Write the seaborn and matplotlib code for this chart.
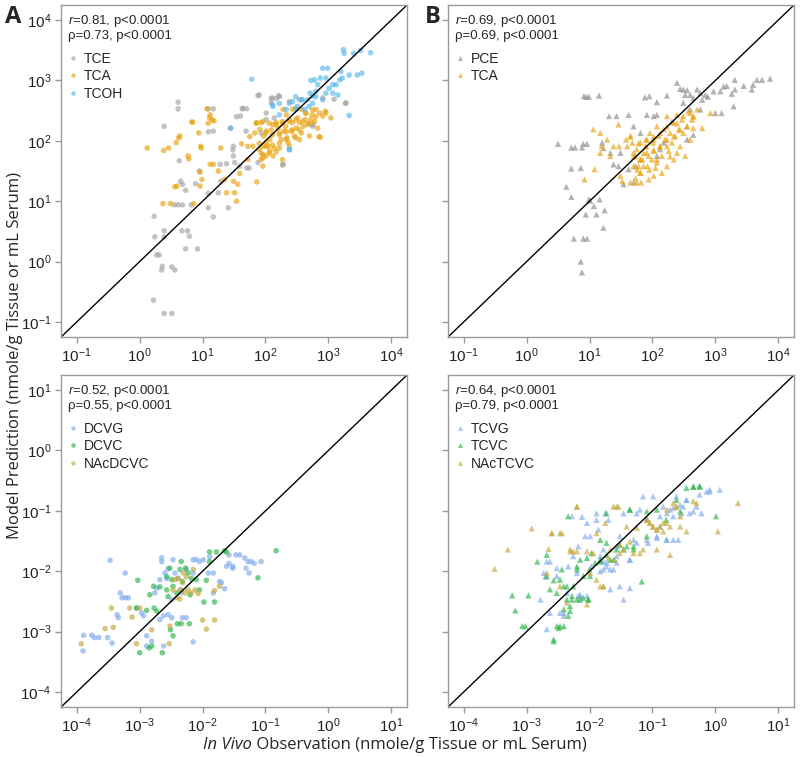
import matplotlib
matplotlib.use("Agg")
import matplotlib.pyplot as plt
import matplotlib.ticker as mticker
import seaborn as sns
import pandas as pd
import numpy as np

# all values are log10(nmole/g tissue or mL serum)
# --- panel A (TCE metabolites) ---
tce_obs = [0.23, 0.24, 0.27, 0.31, 0.35, 0.36, 0.39, 0.39, 0.51, 0.56,
           0.67, 0.76, 0.73, 0.79, 0.92, 0.22, 0.39, 0.51, 0.39, 0.61,
           0.61, 0.63, 0.65, 0.68, 0.73, 0.55, 0.61, 0.68, 0.82, 0.89,
           1.09, 1.09, 1.17, 1.25, 1.41, 1.29, 1.28, 1.38, 1.49, 1.51,
           1.59, 1.70, 1.74, 1.63, 1.70, 1.60, 1.69, 1.09, 1.17, 1.09,
           1.17, 1.88, 1.88, 2.09, 2.17, 2.21, 2.09, 2.14, 2.38, 2.54,
           2.75, 3.09, 3.28, 2.91, 2.28, 1.44, 1.93, 2.01, 0.95, 1.49,
           1.90, 2.11, 2.22, 1.64, 1.54, 2.01, 2.75, 3.27, 1.48, 2.27]
tce_pred = [0.75, 0.41, 0.11, 0.11, -0.14, -0.08, 0.51, 0.41, -0.09, -0.14,
            0.51, 0.51, 0.21, 0.42, 0.21, -0.64, -0.86, -0.86, 2.24, 2.64,
            2.53, 1.67, 1.33, 1.28, 1.18, 0.94, 0.94, 0.94, 0.94, 1.29,
            1.13, 0.89, 0.74, 1.14, 0.89, 1.33, 1.61, 1.62, 1.91, 1.64,
            1.58, 1.55, 1.55, 2.53, 2.53, 2.41, 2.16, 2.15, 2.16, 2.53,
            2.53, 2.75, 1.64, 2.70, 2.70, 2.75, 2.63, 2.38, 2.65, 2.68,
            2.24, 2.69, 2.63, 2.71, 1.61, 2.21, 2.13, 2.35, 1.50, 1.75,
            2.76, 2.71, 2.73, 2.54, 2.40, 2.46, 2.27, 2.62, 1.85, 1.60]
tca_a_obs = [0.12, 0.38, 0.46, 0.62, 0.64, 0.58, 0.59, 0.56, 0.37, 0.49,
             0.77, 0.78, 0.84, 0.83, 0.94, 0.97, 0.98, 1.07, 1.12, 1.11,
             1.15, 1.09, 1.18, 0.96, 0.99, 0.96, 0.86, 1.12, 1.17, 1.25,
             1.29, 1.35, 1.49, 1.51, 1.56, 1.59, 1.72, 1.38, 1.86, 1.54,
             1.72, 1.62, 1.80, 1.86, 1.93, 1.91, 1.97, 2.01, 1.90, 1.93,
             1.96, 2.01, 2.04, 2.07, 2.09, 2.12, 2.17, 2.20, 2.22, 2.25,
             2.27, 2.29, 2.32, 2.34, 2.36, 2.38, 2.41, 2.43, 2.46, 2.49,
             2.51, 2.54, 2.57, 2.60, 2.63, 2.67, 2.70, 2.74, 2.78, 2.80,
             2.83, 2.87, 2.91, 2.95, 3.04, 2.86, 2.07, 2.14, 2.22, 2.12,
             2.54, 2.38, 1.96, 2.01, 2.28, 2.57, 1.96, 2.64, 2.72, 1.83,
             2.33, 2.43]
tca_a_pred = [1.88, 1.84, 1.88, 2.05, 2.08, 1.97, 1.25, 1.24, 0.96, 0.96,
              1.75, 1.70, 2.31, 2.31, 2.13, 1.91, 1.88, 2.53, 2.43, 2.38,
              2.35, 2.29, 2.33, 1.48, 1.36, 1.25, 0.96, 1.61, 1.61, 1.50,
              1.88, 1.36, 1.33, 1.14, 1.28, 1.46, 1.69, 1.14, 1.32, 1.00,
              1.91, 1.95, 1.91, 2.30, 2.30, 2.19, 2.08, 1.97, 1.86, 1.80,
              1.72, 1.75, 1.91, 2.02, 2.18, 2.27, 2.30, 2.21, 2.10, 2.02,
              2.32, 2.16, 2.24, 2.05, 1.97, 2.35, 2.16, 2.30, 2.08, 2.21,
              2.38, 2.30, 2.13, 2.24, 2.35, 2.27, 2.08, 2.43, 2.32, 2.52,
              2.21, 2.06, 2.41, 2.49, 2.38, 2.46, 1.83, 1.88, 1.88, 1.75,
              2.02, 1.91, 1.91, 2.16, 2.52, 2.52, 1.58, 2.46, 2.35, 2.13,
              2.43, 2.52]
# second reading of the dense TCA cluster in panel A
tca_a_obs_core = [1.85, 1.96, 2.06, 2.17, 2.27, 2.38, 2.48, 2.59, 2.69, 2.01,
                  2.11, 2.22, 2.33, 2.43, 2.54, 1.90, 2.01, 2.11, 2.22, 2.33,
                  2.48, 1.96, 2.06, 2.17, 1.93, 2.64, 2.75, 2.80, 2.96, 2.85,
                  2.48, 1.75, 2.27]
tca_a_pred_core = [2.29, 2.32, 2.29, 2.27, 2.29, 2.32, 2.35, 2.32, 2.29, 2.13,
                   2.10, 2.13, 2.15, 2.18, 2.18, 1.96, 1.91, 1.93, 1.96, 2.02,
                   2.05, 1.77, 1.80, 1.82, 1.69, 2.46, 2.51, 2.40, 2.46, 2.07,
                   2.54, 2.07, 1.69]
tcoh_obs = [1.78, 1.45, 2.12, 2.22, 2.33, 2.38, 2.43, 2.51, 2.57, 2.62,
            2.67, 2.71, 2.75, 2.72, 2.78, 2.83, 2.87, 2.91, 2.99, 2.96,
            3.01, 3.07, 3.12, 3.15, 3.18, 3.22, 3.20, 3.33, 3.46, 3.53,
            3.33, 3.25, 3.24, 3.40, 3.51, 3.67, 3.07, 2.91, 2.80, 2.49,
            2.11, 2.22, 2.38, 2.48, 2.59, 2.75, 2.80, 2.96, 2.38, 2.69]
tcoh_pred = [3.02, 2.21, 2.57, 2.43, 2.52, 1.86, 2.65, 2.57, 2.68, 2.52,
             2.68, 2.79, 2.74, 3.00, 3.01, 2.93, 3.04, 3.20, 3.20, 3.04,
             2.87, 2.93, 2.93, 2.76, 3.01, 3.04, 3.15, 3.09, 3.09, 3.12,
             2.42, 3.45, 3.51, 3.45, 3.50, 3.46, 2.79, 2.68, 2.82, 2.52,
             2.60, 2.62, 2.62, 2.73, 2.68, 2.62, 2.73, 2.79, 1.85, 2.57]

# --- panel B (PCE metabolites) ---
pce_obs = [0.50, 0.71, 0.77, 0.71, 0.63, 0.71, 0.88, 0.91, 0.95, 0.99,
           1.15, 0.90, 0.96, 0.86, 0.99, 1.01, 1.07, 1.16, 1.24, 0.94,
           1.11, 1.22, 0.75, 0.90, 0.96, 0.86, 0.88, 1.31, 1.43, 1.20,
           1.22, 1.33, 1.38, 1.46, 1.49, 1.62, 1.70, 1.73, 1.70, 1.81,
           1.88, 1.95, 1.91, 2.07, 2.07, 2.02, 2.23, 2.39, 2.44, 2.49,
           2.55, 2.52, 2.60, 2.65, 2.71, 2.76, 2.79, 2.84, 2.88, 2.97,
           3.00, 3.08, 3.10, 3.13, 3.18, 3.26, 3.29, 3.31, 3.31, 3.58,
           3.60, 3.66, 3.74, 3.87, 3.45, 2.60, 2.49, 2.65, 2.55, 2.31,
           2.18, 2.12, 1.54, 1.62, 2.07, 2.76]
pce_pred = [1.95, 1.89, 1.89, 1.54, 1.24, 1.07, 1.89, 2.74, 2.73, 2.73,
            2.75, 1.95, 1.95, 1.55, 1.03, 1.01, 0.92, 1.03, 0.85, 0.78,
            0.78, 0.56, 0.38, 0.38, 0.38, 0.00, -0.18, 2.41, 2.41, 1.97,
            1.88, 1.80, 1.61, 1.58, 1.80, 2.43, 2.24, 1.58, 1.31, 2.13,
            2.72, 2.74, 2.43, 2.64, 2.43, 2.41, 2.75, 2.96, 2.86, 2.85,
            2.84, 2.76, 2.76, 2.71, 2.85, 2.79, 2.68, 2.76, 2.73, 2.82,
            2.46, 2.82, 2.46, 2.90, 2.91, 2.78, 2.57, 3.01, 2.85, 2.85,
            2.93, 3.01, 3.01, 3.03, 2.91, 2.52, 2.63, 2.10, 2.02, 2.32,
            1.97, 1.86, 1.28, 1.53, 1.75, 2.52]
tca_b_obs = [0.92, 1.08, 1.06, 1.17, 1.19, 1.28, 1.33, 1.46, 1.47, 1.49,
             1.52, 1.58, 1.65, 1.68, 1.70, 1.73, 1.75, 1.78, 1.80, 1.81,
             1.82, 1.84, 1.86, 1.89, 1.90, 1.92, 1.94, 1.96, 1.99, 2.01,
             2.02, 2.05, 2.07, 2.10, 2.12, 2.15, 2.18, 2.20, 2.23, 2.26,
             2.28, 2.31, 2.34, 2.36, 2.39, 2.42, 2.44, 2.47, 2.49, 2.52,
             2.55, 2.57, 2.60, 2.63, 2.65, 2.71, 2.79, 2.92, 1.94, 1.75,
             1.65, 2.02, 1.70, 1.60, 1.90, 2.02, 1.81, 2.23, 2.34, 1.95,
             2.15, 2.39, 1.17, 1.38, 2.07, 2.23, 2.49, 2.65,
             1.70, 1.81, 1.76, 1.86, 1.91, 2.02, 2.12, 2.23, 2.34, 2.44,
             2.55, 2.39, 2.23, 2.12, 2.02, 1.91, 1.78, 1.81, 1.73, 1.65,
             2.60, 2.65, 2.28, 2.07]
tca_b_pred = [1.36, 1.53, 2.19, 2.13, 1.91, 2.02, 1.75, 2.27, 1.91, 1.42,
              1.33, 2.02, 2.08, 1.97, 1.80, 1.75, 1.86, 1.58, 1.69, 1.47,
              1.31, 1.69, 1.80, 1.91, 2.02, 1.58, 1.75, 2.13, 1.69, 1.97,
              1.83, 1.55, 2.24, 2.08, 1.91, 1.75, 2.19, 2.02, 2.41, 1.83,
              2.13, 1.97, 2.30, 2.08, 2.43, 2.19, 1.91, 2.35, 2.13, 1.75,
              2.24, 2.49, 2.02, 2.35, 2.21, 2.52, 2.21, 2.46, 1.36, 1.31,
              1.31, 1.42, 1.58, 1.91, 1.91, 2.02, 1.97, 1.58, 1.69, 1.52,
              1.47, 1.80, 1.80, 1.91, 1.64, 1.91, 2.41, 2.41,
              1.74, 1.69, 1.52, 1.58, 1.80, 1.85, 1.91, 2.02, 2.07, 2.18,
              2.24, 2.29, 2.24, 2.13, 2.07, 2.02, 1.96, 1.47, 1.38, 2.07,
              2.46, 2.40, 1.74, 1.69]

# --- panel C (DCVG pathway) ---
dcvg_obs = [-3.89, -3.90, -3.76, -3.72, -3.65, -3.51, -3.44, -3.47, -3.23, -3.31,
            -3.28, -3.23, -3.18, -3.36, -3.34, -2.97, -2.94, -3.05, -2.89, -2.81,
            -2.89, -2.76, -2.73, -2.68, -2.65, -2.65, -2.60, -2.57, -2.55, -2.49,
            -2.55, -2.49, -2.62, -2.68, -2.47, -2.44, -2.39, -2.34, -2.32, -2.26,
            -2.34, -2.15, -2.10, -2.05, -2.26, -2.15, -2.15, -2.62, -1.99, -1.91,
            -1.89, -1.83, -1.73, -1.70, -1.65, -1.83, -1.62, -1.58, -1.58, -1.52,
            -1.47, -1.41, -1.33, -1.28, -1.23, -1.18, -1.07, -1.26, -1.31, -1.52]
dcvg_pred = [-3.06, -3.32, -3.06, -3.10, -3.10, -3.10, -3.19, -1.82, -2.03, -2.36,
             -2.44, -2.44, -2.44, -2.72, -2.77, -2.69, -2.74, -2.61, -3.07, -3.16,
             -3.24, -2.36, -2.28, -2.14, -1.78, -1.84, -2.03, -2.12, -1.96, -2.47,
             -2.72, -2.77, -2.74, -2.80, -1.81, -2.03, -2.12, -2.36, -2.77, -2.77,
             -2.31, -1.81, -1.81, -1.84, -1.97, -2.03, -3.17, -3.24, -1.81, -2.03,
             -1.76, -2.03, -2.17, -2.19, -2.29, -2.36, -1.92, -1.87, -1.73, -1.92,
             -1.73, -1.73, -1.78, -1.84, -1.84, -1.87, -1.84, -2.03, -1.95, -1.95]
dcvc_obs = [-3.03, -3.05, -3.00, -2.89, -2.84, -2.77, -2.73, -2.78, -2.81, -2.85,
            -2.64, -2.68, -2.57, -2.52, -2.49, -2.47, -2.41, -2.40, -2.34, -2.36,
            -2.34, -2.32, -2.23, -2.21, -2.20, -2.18, -2.10, -2.05, -1.98, -1.94,
            -1.89, -1.81, -1.78, -1.89, -1.65, -1.62, -1.12, -0.83, -2.47, -2.51,
            -2.55, -2.27, -2.57]
dcvc_pred = [-2.15, -2.61, -3.35, -2.65, -2.39, -2.61, -2.66, -2.25, -3.24, -3.27,
             -3.35, -2.26, -2.31, -1.95, -2.14, -2.25, -2.36, -2.87, -2.87, -1.97,
             -1.84, -2.17, -2.03, -2.87, -2.39, -2.12, -2.14, -2.31, -2.51, -2.15,
             -1.84, -2.51, -1.68, -1.68, -1.66, -1.68, -2.11, -1.66, -3.07, -2.97,
             -2.42, -1.95, -2.09]
nacdcvc_obs = [-3.93, -3.55, -3.42, -3.45, -3.16, -3.12, -3.05, -3.00, -2.81, -2.53,
               -2.52, -2.47, -2.41, -2.36, -2.44, -2.32, -2.28, -2.26, -2.23, -2.18,
               -2.15, -2.12, -2.07, -2.00, -1.94, -1.81, -1.81, -1.73, -2.39, -2.31,
               -2.36]
nacdcvc_pred = [-3.20, -2.95, -2.93, -2.61, -2.61, -2.76, -3.20, -2.61, -2.97, -3.20,
                -2.91, -2.31, -2.44, -2.46, -2.14, -2.19, -2.36, -2.09, -2.31, -2.36,
                -1.97, -2.31, -2.37, -2.81, -2.96, -2.81, -2.32, -2.25, -2.12, -2.03,
                -2.31]

# --- panel D (TCVG pathway) ---
tcvg_obs = [-2.78, -2.73, -2.68, -2.70, -2.68, -2.63, -2.52, -2.47, -2.41, -2.36,
            -2.34, -2.28, -2.26, -2.20, -2.15, -2.12, -2.07, -2.04, -1.97, -1.89,
            -1.86, -1.83, -1.78, -1.75, -1.73, -1.70, -1.62, -1.57, -1.52, -1.46,
            -1.36, -1.36, -1.30, -1.25, -1.20, -1.15, -1.09, -1.07, -0.99, -0.93,
            -0.88, -0.83, -0.78, -0.72, -0.67, -0.62, -0.59, -0.54, -0.51, -0.46,
            -0.41, -0.35, -0.30, -0.22, -0.14, -0.09, 0.07, -1.46, -2.04, -1.78,
            -1.57,
            -2.63, -2.52, -2.15, -2.41, -1.78, -1.73, -1.67, -1.83, -1.57, -1.36,
            -1.25, -1.09, -0.93, -0.77, -0.67, -0.88, -0.77, -0.67, -0.56, -0.46,
            -0.25, -0.09, -1.67, -1.52, -1.99, -2.18, -1.89, -2.18]
tcvg_pred = [-2.47, -2.03, -1.84, -2.09, -2.96, -2.69, -2.08, -2.69, -2.74, -2.36,
             -1.92, -1.09, -1.75, -2.03, -2.39, -1.10, -1.42, -1.20, -1.92, -1.15,
             -1.31, -1.75, -1.64, -1.04, -1.86, -1.15, -1.97, -1.75, -1.42, -1.04,
             -1.81, -2.28, -1.48, -1.04, -0.98, -0.76, -1.12, -1.53, -0.76, -1.42,
             -1.09, -0.93, -1.48, -0.98, -1.09, -0.76, -1.48, -1.04, -0.93, -0.82,
             -1.04, -1.01, -0.93, -1.04, -0.68, -0.65, -0.65, -2.47, -2.41, -1.97,
             -1.59,
             -1.84, -1.95, -2.41, -2.69, -1.84, -1.92, -1.97, -2.00, -1.86, -1.81,
             -1.53, -1.48, -1.45, -1.48, -1.48, -1.26, -1.04, -0.95, -0.90, -0.82,
             -0.73, -0.68, -2.30, -2.25, -1.42, -1.59, -1.04, -2.41]
tcvc_obs = [-3.23, -3.18, -3.07, -3.02, -2.97, -2.83, -2.68, -2.57, -2.57, -2.52,
            -2.47, -2.41, -2.36, -2.34, -2.31, -2.28, -2.26, -2.20, -2.15, -2.10,
            -2.02, -2.00, -1.97, -1.91, -1.83, -1.73, -1.67, -1.57, -1.52, -1.36,
            -1.30, -1.17, -1.09, -0.93, -0.78, -0.62, -0.46, -0.35, -0.25, 0.01,
            -2.34, -2.41, -1.73, -2.52,
            -2.47, -2.36, -2.28, -2.31, -2.20, -2.10, -2.02, -2.49, -2.41, -2.57,
            -2.15, -2.04, -1.83, -1.73, -1.62, -1.46, -1.41, -1.30, -2.20, -1.99,
            -2.44, -2.68, -2.63, -1.83, -1.36, -1.09, -0.56, -0.35, -0.25]
tcvc_pred = [-2.40, -2.65, -2.91, -2.91, -2.40, -1.84, -1.73, -2.15, -3.13, -2.91,
             -2.91, -2.63, -2.47, -2.74, -2.58, -2.47, -2.25, -1.92, -2.47, -2.08,
             -2.47, -1.97, -1.70, -1.86, -1.81, -1.53, -1.81, -1.64, -1.56, -0.98,
             -1.64, -2.17, -1.42, -0.98, -1.15, -0.82, -0.62, -0.60, -0.59, -1.09,
             -1.09, -2.25, -1.04, -2.36,
             -2.14, -2.25, -2.41, -2.66, -2.47, -2.44, -2.47, -2.94, -2.91, -3.16,
             -1.81, -1.78, -1.84, -1.73, -1.81, -1.64, -1.59, -1.59, -1.97, -2.08,
             -1.97, -2.08, -2.30, -1.48, -0.98, -1.01, -1.01, -0.60, -0.60]
nactcvc_obs = [-3.51, -3.30, -2.92, -2.65, -2.60, -2.44, -2.47, -2.68, -2.30, -2.26,
               -2.20, -2.04, -1.94, -1.89, -1.83, -1.78, -1.75, -1.62, -1.54, -1.52,
               -1.46, -1.41, -1.36, -1.30, -1.20, -1.15, -1.09, -1.04, -0.99, -0.93,
               -0.88, -0.83, -0.78, -0.72, -0.67, -0.62, -0.56, -0.46, -0.35, -0.93,
               -1.60, -1.70, 0.04, 0.36,
               -1.04, -0.99, -0.93, -0.83, -0.72, -0.56, -0.77, -0.62, -1.52, -1.67,
               -1.78, -1.89, -1.99, -2.31, -2.20, -2.36, -2.04, -1.57, -2.20, -2.47,
               -2.60, -1.25, -1.09, -0.30]
nactcvc_pred = [-1.96, -1.64, -1.29, -1.63, -1.37, -1.37, -2.25, -2.03, -1.67, -1.67,
                -0.93, -1.67, -1.70, -1.37, -2.25, -2.25, -1.20, -0.93, -0.93, -1.56,
                -1.64, -1.26, -1.51, -1.70, -1.70, -1.64, -1.15, -1.20, -1.26, -1.31,
                -1.26, -1.34, -1.20, -1.73, -0.87, -0.93, -1.09, -1.34, -0.84, -1.64,
                -1.81, -1.78, -1.34, -0.87,
                -1.20, -1.26, -1.31, -1.20, -1.26, -1.26, -0.98, -0.93, -1.70, -1.64,
                -2.25, -2.14, -2.03, -1.64, -1.67, -2.52, -2.55, -0.93, -0.93, -1.37,
                -1.37, -1.28, -1.15, -0.87]

stats_text = {
    "A": ("0.81", "0.73"),
    "B": ("0.69", "0.69"),
    "C": ("0.52", "0.55"),
    "D": ("0.64", "0.79"),
}


def make_df(series):
    parts = []
    for name, obs, pred in series:
        parts.append(pd.DataFrame({"obs": np.power(10.0, obs),
                                   "pred": np.power(10.0, pred),
                                   "chem": name}))
    return pd.concat(parts, ignore_index=True)


panels = [
    ("A", make_df([("TCE", tce_obs, tce_pred),
                   ("TCA", tca_a_obs + tca_a_obs_core, tca_a_pred + tca_a_pred_core),
                   ("TCOH", tcoh_obs, tcoh_pred)]),
     {"TCE": "#a3a3a3", "TCA": "#e8a20e", "TCOH": "#5ab6e8"}, "o", (-1, 4)),
    ("B", make_df([("PCE", pce_obs, pce_pred), ("TCA", tca_b_obs, tca_b_pred)]),
     {"PCE": "#8a8a8a", "TCA": "#e8a20e"}, "^", (-1, 4)),
    ("C", make_df([("DCVG", dcvg_obs, dcvg_pred), ("DCVC", dcvc_obs, dcvc_pred),
                   ("NAcDCVC", nacdcvc_obs, nacdcvc_pred)]),
     {"DCVG": "#7fa9ee", "DCVC": "#27b548", "NAcDCVC": "#c4a73a"}, "o", (-4, 1)),
    ("D", make_df([("TCVG", tcvg_obs, tcvg_pred), ("TCVC", tcvc_obs, tcvc_pred),
                   ("NAcTCVC", nactcvc_obs, nactcvc_pred)]),
     {"TCVG": "#7fa9ee", "TCVC": "#27b548", "NAcTCVC": "#c4a73a"}, "^", (-4, 1)),
]

sns.set_style("white")
plt.rcParams["font.family"] = ["Liberation Sans", "DejaVu Sans"]
plt.rcParams["mathtext.fontset"] = "custom"
plt.rcParams["mathtext.rm"] = "Liberation Sans"
plt.rcParams["mathtext.it"] = "Liberation Sans:italic"

fig = plt.figure(figsize=(8.0, 7.57), dpi=100)
boxes = {"A": [0.0763, 0.5548, 0.4325, 0.4386],
         "B": [0.5600, 0.5548, 0.4325, 0.4386],
         "C": [0.0763, 0.0660, 0.4325, 0.4386],
         "D": [0.5600, 0.0660, 0.4325, 0.4386]}
edge = "#9a9a9a"

for key, df, pal, mk, (lo, hi) in panels:
    ax = fig.add_axes(boxes[key])
    sns.scatterplot(data=df, x="obs", y="pred", hue="chem", palette=pal,
                    marker=mk, s=16 if mk == "o" else 20, alpha=0.65,
                    linewidth=0, ax=ax)
    ax.set_xscale("log")
    ax.set_yscale("log")
    pad = 0.05 * (hi - lo)
    lim = (10 ** (lo - pad), 10 ** (hi + pad))
    ax.set_xlim(lim)
    ax.set_ylim(lim)
    ax.plot(lim, lim, color="black", lw=1.0, zorder=1)
    ticks = [10.0 ** k for k in range(lo, hi + 1)]
    ax.set_xticks(ticks)
    ax.set_yticks(ticks)
    ax.xaxis.set_minor_locator(mticker.NullLocator())
    ax.yaxis.set_minor_locator(mticker.NullLocator())
    if key in ("B", "D"):
        ax.set_yticklabels([])
    ax.tick_params(axis="both", which="major", direction="out", length=4,
                   width=1, color=edge, labelsize=11, labelcolor="#222222",
                   pad=3, left=True, bottom=True)
    for sp in ax.spines.values():
        sp.set_color(edge)
        sp.set_linewidth(1.0)
    ax.set_xlabel("")
    ax.set_ylabel("")
    r_val, rho_val = stats_text[key]
    ax.text(0.02, 0.975, r"$\it{r}$=" + r_val + ", p<0.0001",
            transform=ax.transAxes, ha="left", va="top", fontsize=9.5)
    ax.text(0.02, 0.925, "\u03c1=" + rho_val + ", p<0.0001",
            transform=ax.transAxes, ha="left", va="top", fontsize=9.5)
    sns.move_legend(ax, "upper left", bbox_to_anchor=(0.01, 0.868),
                    frameon=False, title=None, fontsize=10,
                    handlelength=0.8, handletextpad=0.4, labelspacing=0.25,
                    markerscale=0.8, borderaxespad=0.0, borderpad=0.2)

label_font = ["Open Sans", "DejaVu Sans"]
fig.text(0.006, 0.978, "A", fontsize=17, fontweight="bold", ha="left", va="center",
         family=label_font)
fig.text(0.531, 0.978, "B", fontsize=17, fontweight="bold", ha="left", va="center",
         family=label_font)
fig.text(0.019, 0.531, "Model Prediction (nmole/g Tissue or mL Serum)",
         rotation=90, ha="center", va="center", fontsize=12, family=label_font)

# x label: italic "In Vivo" followed by upright text, centred as one line
renderer = fig.canvas.get_renderer()
xl_y = 0.016
part1 = fig.text(0, xl_y, "In Vivo", style="italic", ha="left", va="center",
                 fontsize=12, family=label_font)
part2 = fig.text(0, xl_y, " Observation (nmole/g Tissue or mL Serum)", ha="left",
                 va="center", fontsize=12, family=label_font)
w1 = part1.get_window_extent(renderer).width / fig.bbox.width
w2 = part2.get_window_extent(renderer).width / fig.bbox.width
x_start = 0.494 - (w1 + w2) / 2
part1.set_x(x_start)
part2.set_x(x_start + w1)

fig.savefig("out.png", dpi=100)
